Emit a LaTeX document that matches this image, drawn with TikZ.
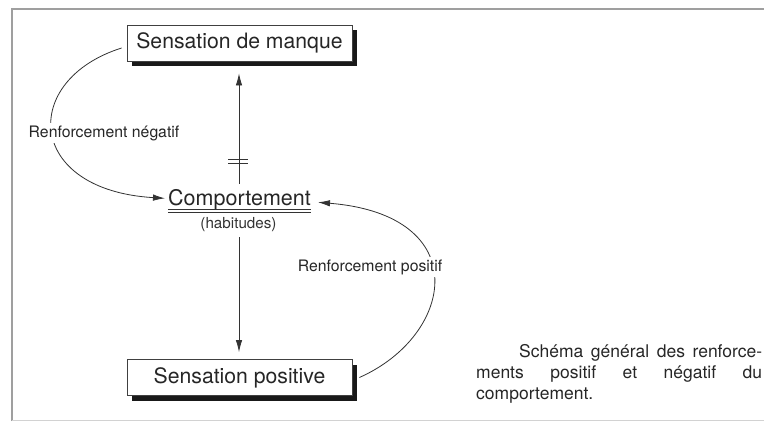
\documentclass[tikz,border=0pt]{standalone}
\usepackage{fontspec}
\setmainfont{TeX Gyre Heros}
\usetikzlibrary{arrows.meta,shadows}
\tikzset{
  boxnode/.style={draw=black!75, line width=0.8pt, fill=white, minimum width=225pt, minimum height=36pt, inner sep=0pt,
    font=\fontsize{21.2}{24}\selectfont, text=black!85,
    drop shadow={shadow xshift=4.5pt, shadow yshift=-5pt, fill=black!90, opacity=1}},
  conn/.style={draw=black!80, line width=0.8pt, -{Latex[length=12pt,width=6.5pt]}},
  lbl/.style={fill=white, inner sep=2pt, font=\fontsize{15.8}{18}\selectfont, text=black!85},
  frameline/.style={draw=gray!75, line width=2.6pt}
}
\begin{document}
\begin{tikzpicture}[x=1pt,y=-1pt]
\useasboundingbox (0,0) rectangle (764,421);
% frame
\draw[frameline] (12,421) -- (12,9) -- (764,9);
\draw[gray!35, line width=1pt] (12,420) -- (764,420);
% boxes
\node[boxnode] (sm) at (239.5,43) {Sensation de manque};
\node[boxnode] (sp) at (239.5,377.5) {Sensation positive};
% comportement
\node[anchor=base, inner sep=0pt, font=\fontsize{21.5}{24}\selectfont, text=black!85] (comp) at (239.5,205) {Comportement};
\draw[black!80, line width=0.8pt] ([yshift=-4.5pt]comp.base west) -- ([yshift=-4.5pt]comp.base east);
\draw[black!80, line width=0.8pt] ([yshift=-7.8pt]comp.base west) -- ([yshift=-7.8pt]comp.base east);
\node[inner sep=0pt, font=\fontsize{15.2}{18}\selectfont, text=black!80] (hab) at (238.5,225) {(habitudes)};
% vertical connectors
\draw[conn] ([xshift=-0.5pt,yshift=5pt]comp.north) -- ([xshift=-0.5pt,yshift=-12pt]sm.south);
\draw[black!80, line width=0.8pt] (228,159) -- (248,159);
\draw[black!80, line width=0.8pt] (228,163) -- (248,163);
\coordinate (d1) at (239,237);
\draw[conn] (d1) -- ([xshift=-0.5pt,yshift=7pt]sp.north);
% curved connectors
\draw[conn] ([xshift=-5pt,yshift=-5pt]sm.west) .. controls (20,80) and (25,190) .. ([xshift=-3pt,yshift=1pt]comp.west);
\node[lbl] (neg) at (104,133) {Renforcement négatif};
\draw[conn] ([xshift=7pt]sp.east) .. controls (455,335) and (475,215) .. ([xshift=7pt,yshift=-3pt]comp.east);
\node[lbl] (pos) at (370,267) {Renforcement positif};
% caption
\node[anchor=north west, inner sep=0pt, align=left, font=\fontsize{17.5}{21}\selectfont, text=black!85] (cap) at (476,344)
  {\hspace*{43pt}\makebox[243pt][s]{Schéma général des renforce-}\\
   \makebox[286pt][s]{ments positif et négatif du}\\
   comportement.};
\end{tikzpicture}
\end{document}
